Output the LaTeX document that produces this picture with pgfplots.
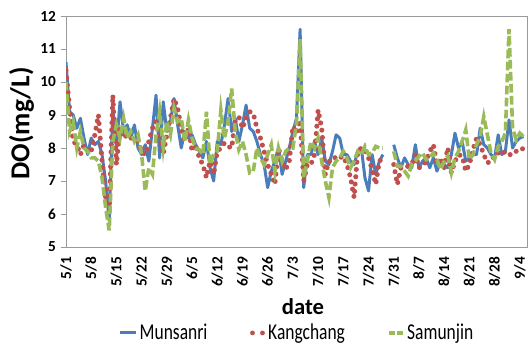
\documentclass[border=0pt]{standalone}
\usepackage{pgfplots}
\pgfplotsset{compat=1.18}
\usepackage{pgfplotstable}
\usepackage{fontspec}
\setmainfont{Carlito}
\newfontfamily\cond{Carlito}[FakeStretch=0.77]
\definecolor{cM}{HTML}{4A7EBB}
\definecolor{cK}{HTML}{C0504D}
\definecolor{cS}{HTML}{9BBB59}
\definecolor{axgray}{HTML}{9A9A9A}
\pgfplotstableread{
day M K S
0 10.6 10.35 10.0
1 9.1 9.2 8.5
2 9.0 8.2 8.8
3 8.6 8.1 8.0
4 8.9 7.8 8.5
5 8.3 8.1 8.0
6 7.8 7.9 7.9
7 8.3 7.9 7.7
8 8.1 8.4 7.7
9 8.2 9.0 7.6
10 7.8 7.6 7.1
11 7.0 6.5 6.2
12 5.8 6.1 5.5
13 9.2 9.6 8.2
14 8.0 7.5 8.7
15 9.4 8.6 8.3
16 8.5 8.3 8.9
17 8.7 8.4 8.3
18 8.3 8.3 8.5
19 8.7 8.3 8.2
20 8.0 8.2 8.4
21 7.8 7.9 7.8
22 8.1 7.8 6.7
23 7.6 8.2 7.4
24 8.6 8.6 7.2
25 9.6 8.8 8.4
26 7.7 8.3 9.1
27 9.4 7.8 8.0
28 8.5 8.4 8.8
29 8.8 8.9 8.4
30 9.5 9.5 9.2
31 8.7 9.2 8.8
32 8.0 8.6 8.9
33 8.5 8.2 8.2
34 8.3 8.6 8.85
35 8.4 7.9 8.3
36 8.1 8.1 8.0
37 7.9 7.7 7.95
38 7.7 7.5 7.8
39 8.2 7.1 9.1
40 7.4 7.6 7.5
41 7.0 7.2 7.8
42 8.2 7.9 7.9
43 8.1 8.0 9.15
44 8.7 8.15 8.3
45 9.5 8.05 8.8
46 8.5 8.0 9.8
47 8.9 8.85 8.5
48 8.2 8.95 7.95
49 8.7 8.6 8.2
50 9.3 8.9 7.8
51 8.6 9.1 7.25
52 8.5 9.05 7.3
53 8.2 8.6 8.0
54 7.8 8.3 7.7
55 7.5 7.9 7.5
56 6.8 7.5 7.8
57 7.3 7.2 8.1
58 7.6 6.9 7.3
59 8.0 8.0 8.0
60 7.2 7.6 7.6
61 7.6 7.35 7.9
62 8.0 7.6 8.0
63 8.5 8.65 8.0
64 8.9 8.45 8.75
65 11.6 8.85 11.3
66 6.8 7.0 7.1
67 7.8 7.5 7.6
68 7.8 7.5 8.2
69 8.2 7.8 8.0
70 7.8 9.15 8.3
71 8.3 8.6 7.6
72 7.6 7.2 7.0
73 7.5 7.6 6.5
74 7.9 7.6 7.4
75 8.4 7.75 7.6
76 8.3 7.7 7.7
77 7.8 7.75 7.9
78 7.8 7.5 7.7
79 7.6 7.1 7.4
80 7.5 6.5 7.6
81 7.9 7.9 7.9
82 8.0 8.0 7.8
83 7.1 7.95 8.05
84 6.7 7.7 7.8
85 7.8 7.35 7.85
86 7.2 6.9 8.05
87 7.6 7.6 8.0
88 7.8 7.7 8.0
89 nan nan nan
90 nan nan nan
91 8.1 7.5 7.9
92 7.7 6.9 7.45
93 7.4 7.4 7.45
94 7.7 7.4 7.3
95 7.5 7.45 7.15
96 7.4 7.5 7.5
97 8.1 7.8 7.6
98 7.4 7.4 7.75
99 7.6 7.45 7.85
100 7.7 7.6 7.65
101 7.4 7.9 7.7
102 7.7 8.1 7.85
103 7.3 7.5 7.65
104 7.6 7.7 7.35
105 7.5 7.4 7.6
106 7.4 8.0 7.75
107 7.8 7.25 7.25
108 8.45 7.6 7.7
109 8.0 7.8 7.9
110 8.2 7.75 8.2
111 7.6 7.3 8.55
112 7.7 7.5 7.65
113 7.8 7.95 7.8
114 7.8 8.3 8.1
115 8.6 8.1 8.35
116 8.1 7.8 8.95
117 8.0 7.55 8.4
118 7.8 7.6 7.85
119 7.7 7.8 7.65
120 8.4 7.85 8.05
121 7.8 7.8 8.2
122 7.9 7.9 8.45
123 8.85 7.8 11.6
124 8.0 7.8 8.6
125 8.2 7.9 8.25
126 8.3 7.9 8.45
127 8.35 8.0 8.35
}\datatable
\begin{document}
\begin{tikzpicture}
\useasboundingbox (-49.5pt,-74.25pt) rectangle (346.5pt,185.25pt);
\begin{axis}[
  scale only axis, width=345.75pt, height=173.25pt,
  at={(0pt,0pt)}, anchor=south west,
  xmin=0, xmax=128, ymin=5, ymax=12,
  unbounded coords=jump,
  /pgf/number format/assume math mode=true,
  ytick={5,6,...,12},
  xtick={0,7,...,126},
  xticklabels={5/1,5/8,5/15,5/22,5/29,6/5,6/12,6/19,6/26,7/3,7/10,7/17,7/24,7/31,8/7,8/14,8/21,8/28,9/4},
  x tick label style={rotate=90, anchor=east, font=\fontsize{11.5}{13}\selectfont\bfseries},
  y tick label style={font=\fontsize{11.5}{13}\selectfont\bfseries},
  axis line style={draw=axgray},
  ytick style={draw=axgray},
  xtick style={draw=none},
  tick align=outside,
  major tick length=4pt,
  xtick pos=bottom, ytick pos=left,
  xlabel={date},
  ylabel={DO(mg/L)},
  xlabel style={font=\fontsize{17}{19}\selectfont\bfseries, at={(axis description cs:0.514,-0.26)}, anchor=center},
  ylabel style={font=\fontsize{20.5}{22}\selectfont\bfseries, at={(axis description cs:-0.0965,0.535)}, anchor=center},
  legend columns=3,
  legend style={at={(axis description cs:0.501,-0.372)}, anchor=center, draw=none, fill=none,
    font=\cond\fontsize{17}{19}\selectfont,
    /tikz/every even column/.append style={column sep=30pt},
    /tikz/every odd column/.append style={column sep=0pt}},
  legend cell align=left,
]
\addplot[cM, line width=2.25pt, line join=round,
  legend image code/.code={\draw[cM, line width=2.25pt] (0pt,0pt) -- (12pt,0pt);}]
  table[x=day, y=M] {\datatable};
\addlegendentry{Munsanri}
\addplot[cK, line width=3.8pt, line cap=round, dash pattern=on 0pt off 5.5pt,
  legend image code/.code={\draw[cK, line width=3.6pt, line cap=round, dash pattern=on 0pt off 7.5pt] (2pt,0pt) -- (10pt,0pt);}]
  table[x=day, y=K] {\datatable};
\addlegendentry{Kangchang}
\addplot[cS, line width=2.7pt, dash pattern=on 6.5pt off 2.5pt,
  legend image code/.code={\draw[cS, line width=2.7pt, dash pattern=on 4pt off 2pt] (0pt,0pt) -- (10pt,0pt);}]
  table[x=day, y=S] {\datatable};
\addlegendentry{Samunjin}
\end{axis}
\end{tikzpicture}
\end{document}
